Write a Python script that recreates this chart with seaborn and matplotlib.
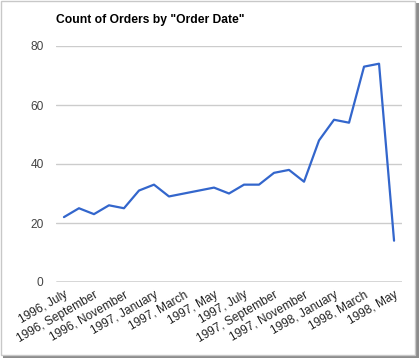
import matplotlib
matplotlib.use("Agg")
import matplotlib.pyplot as plt
import seaborn as sns
import pandas as pd
from matplotlib.patches import Rectangle

months = ["1996, July", "1996, August", "1996, September", "1996, October",
          "1996, November", "1996, December", "1997, January", "1997, February",
          "1997, March", "1997, April", "1997, May", "1997, June", "1997, July",
          "1997, August", "1997, September", "1997, October", "1997, November",
          "1997, December", "1998, January", "1998, February", "1998, March",
          "1998, April", "1998, May"]
counts = [22, 25, 23, 26, 25, 31, 33, 29, 30, 31, 32, 30, 33, 33, 37, 38, 34,
          48, 55, 54, 73, 74, 14]
y_ticks = [0, 20, 40, 60, 80]

df = pd.DataFrame({"pos": list(range(len(months))), "month": months, "count": counts})

sns.set_theme(style="white")
plt.rcParams["font.family"] = ["Liberation Sans", "DejaVu Sans"]

W, H = 419, 359
fig = plt.figure(figsize=(W / 100, H / 100), dpi=100)
fig.patch.set_facecolor("white")

# frame with shadow
shadow = Rectangle((3 / W, 1 / H), (W - 3) / W, (H - 4) / H, transform=fig.transFigure,
                   facecolor="#8c8c8c", edgecolor="none", zorder=-3)
fig.patches.append(shadow)
frame = Rectangle((0.5 / W, 4.5 / H), (W - 4.5) / W, (H - 5) / H, transform=fig.transFigure,
                  facecolor="white", edgecolor="#c8c8c8", linewidth=1.0, zorder=-2)
fig.patches.append(frame)

ax = fig.add_axes([56 / W, 1 - 282 / H, 346 / W, 236 / H])
ax.set_facecolor("none")

sns.lineplot(data=df, x="pos", y="count", ax=ax, color="#3366CC", linewidth=1.6)

ax.set_ylim(0, 80)
ax.set_xlim(-0.53, len(months) - 1 + 0.53)
ax.set_yticks(y_ticks)
ax.set_yticklabels([str(v) for v in y_ticks], fontsize=8.6, color="#444444")
for v in y_ticks[1:]:
    ax.axhline(v, color="#cccccc", linewidth=1.0, zorder=0)
ax.axhline(0, color="#333333", linewidth=1.0, zorder=1)

tick_pos = df["pos"][::2].tolist()
ax.set_xticks(tick_pos)
ax.set_xticklabels(df["month"][::2].tolist(), rotation=30, ha="right", va="top",
                   rotation_mode="anchor", fontsize=8.6, color="#222222")
ax.tick_params(axis="x", length=0, pad=5)
ax.tick_params(axis="y", length=0, pad=9)
for s in ax.spines.values():
    s.set_visible(False)
ax.set_xlabel("")
ax.set_ylabel("")

fig.text(56 / W, 1 - 20 / H, 'Count of Orders by "Order Date"', fontsize=8.7,
         fontweight="bold", color="black", ha="left", va="center")

fig.savefig("out.png", dpi=100, facecolor=fig.get_facecolor())
